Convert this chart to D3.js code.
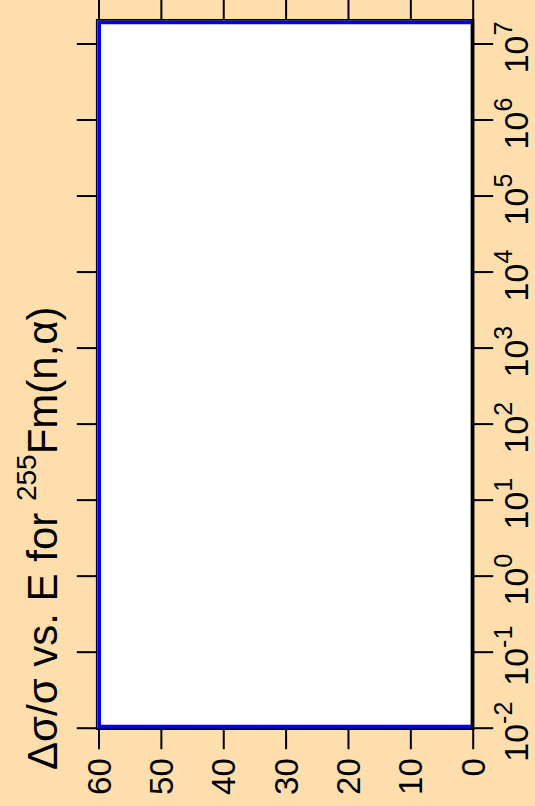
<!DOCTYPE html>
<html>
<head>
<meta charset="utf-8">
<script src="https://cdn.jsdelivr.net/npm/d3@7"></script>
<style>
  html, body { margin: 0; padding: 0; background: #FFDEAD; }
  svg { display: block; }
  text { font-family: "Liberation Sans", Arial, Helvetica, sans-serif; fill: #000; }
</style>
</head>
<body>
<svg id="chart" width="535" height="806"></svg>
<script>
// ---- data ----
const sigmaTicks = [0, 10, 20, 30, 40, 50, 60];        // Δσ/σ (%) axis ticks
const energyExponents = [-2, -1, 0, 1, 2, 3, 4, 5, 6, 7]; // E axis ticks, 10^k
const titleMain = "Δσ/σ vs. E for ";
const titleSup = "255";
const titleTail = "Fm(n,α)";

// ---- layout ----
const W = 535, H = 806;
const pL = 98.5, pR = 472.7, pT = 20, pB = 728.2;

const svg = d3.select("#chart");
svg.append("rect").attr("width", W).attr("height", H).attr("fill", "#FFDEAD");

// scales (rotated plot: Δσ/σ horizontal, E vertical)
const x = d3.scaleLinear().domain([60, 0]).range([pL, pR]);
const y = d3.scaleLog().domain([1e-2, 1e7]).range([pB - 0.5, 43.5]);

// plot area
svg.append("rect")
  .attr("x", 97).attr("y", pT)
  .attr("width", 471 - 97).attr("height", pB - pT)
  .attr("fill", "#fff");

// grey inner line near right edge
svg.append("line")
  .attr("x1", 470.5).attr("x2", 470.5)
  .attr("y1", pT + 4).attr("y2", pB - 3)
  .attr("stroke", "#a8a8a8").attr("stroke-width", 1);

// axes
const eTicks = energyExponents.map(k => Math.pow(10, k));
const gb = svg.append("g").attr("transform", `translate(0,${pB})`)
  .call(d3.axisBottom(x).tickValues(sigmaTicks).tickSize(21).tickFormat(""));
const gt = svg.append("g").attr("transform", `translate(0,${pT})`)
  .call(d3.axisTop(x).tickValues(sigmaTicks).tickSize(22).tickFormat(""));
const gr = svg.append("g").attr("transform", `translate(${pR},0)`)
  .call(d3.axisRight(y).tickValues(eTicks).tickSize(20.5).tickFormat(""));
const gl = svg.append("g").attr("transform", `translate(97.3,0)`)
  .call(d3.axisLeft(y).tickValues(eTicks).tickSize(20.5).tickFormat(""));

[gb, gt, gr, gl].forEach(g => {
  g.select(".domain").remove();
  g.selectAll(".tick line").attr("stroke", "#000").attr("stroke-width", 2);
});

// bottom labels (rotated)
svg.append("g").selectAll("text").data(sigmaTicks).join("text")
  .attr("transform", d => `translate(${x(d) + 12},${pB + 30}) rotate(-90)`)
  .attr("text-anchor", "end")
  .attr("font-size", 33)
  .text(d => d);

// right labels 10^k (rotated)
const rl = svg.append("g").selectAll("text").data(energyExponents).join("text")
  .attr("transform", d => `translate(${pR + 55},${y(Math.pow(10, d)) + 4}) rotate(-90)`)
  .attr("text-anchor", "middle")
  .attr("font-size", 34);
rl.append("tspan").text("10");
rl.append("tspan").attr("dy", -16).attr("font-size", 25).text(d => d < 0 ? "-" + Math.abs(d) : d);

// black frame lines
const frame = svg.append("g").attr("stroke", "#000").attr("fill", "none");
frame.append("line").attr("x1", 96).attr("x2", pR).attr("y1", 19.8).attr("y2", 19.8).attr("stroke-width", 1.8);
frame.append("line").attr("x1", 96).attr("x2", pR).attr("y1", 729).attr("y2", 729).attr("stroke-width", 2);
frame.append("line").attr("x1", 96.6).attr("x2", 96.6).attr("y1", 19).attr("y2", 730).attr("stroke-width", 1.4);
frame.append("line").attr("x1", 472.7).attr("x2", 472.7).attr("y1", 19).attr("y2", 730).attr("stroke-width", 3.5);

// blue box
svg.append("path")
  .attr("d", `M471,22.5 H99.2 V726.6 H471`)
  .attr("fill", "none").attr("stroke", "#0000EE").attr("stroke-width", 3.6);

// title (rotated)
const t = svg.append("text")
  .attr("transform", `translate(57,770) rotate(-90)`)
  .attr("text-anchor", "start")
  .attr("font-size", 42);
t.append("tspan").text(titleMain);
t.append("tspan").attr("dy", -21).attr("font-size", 28).text(titleSup);
t.append("tspan").attr("dy", 21).text(titleTail);
</script>
</body>
</html>
